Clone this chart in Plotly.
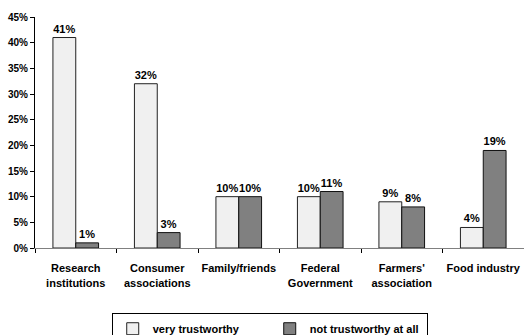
import plotly.graph_objects as go

categories = ["Research<br>institutions", "Consumer<br>associations", "Family/friends",
              "Federal<br>Government", "Farmers'<br>association", "Food industry"]
very_trustworthy = [41, 32, 10, 10, 9, 4]
not_trustworthy = [1, 3, 10, 11, 8, 19]
series_names = ["very trustworthy", "not trustworthy at all"]

FONT = "Liberation Sans, Arial, sans-serif"

fig = go.Figure()
fig.add_trace(go.Bar(
    x=categories, y=very_trustworthy, name=series_names[0],
    marker=dict(color="#F0F0F0", line=dict(color="#222222", width=1)),
    text=[f"{v}%" for v in very_trustworthy], textposition="outside",
    textfont=dict(family=FONT, size=11, color="#000", weight="bold"),
    cliponaxis=False,
))
fig.add_trace(go.Bar(
    x=categories, y=not_trustworthy, name=series_names[1],
    marker=dict(color="#808080", line=dict(color="#111111", width=1)),
    text=[f"{v}%" for v in not_trustworthy], textposition="outside",
    textfont=dict(family=FONT, size=11, color="#000", weight="bold"),
    cliponaxis=False,
))

fig.update_layout(
    width=524, height=335,
    margin=dict(l=35, r=0, t=17, b=87),
    barmode="group", bargap=0.44, bargroupgap=0,
    plot_bgcolor="white", paper_bgcolor="white",
    font=dict(family=FONT, size=10, color="#000", weight="bold"),
    showlegend=True,
    legend=dict(
        orientation="h", x=0.48, xanchor="center",
        yref="container", y=0.065, yanchor="top",
        bordercolor="#000", borderwidth=1, bgcolor="white",
        font=dict(family=FONT, size=11, color="#000", weight="bold"),
        itemwidth=30, entrywidth=112, tracegroupgap=0,
    ),
    xaxis=dict(
        showline=True, linecolor="#808080", linewidth=1,
        ticks="outside", tickson="boundaries", ticklen=4, tickcolor="#000",
        tickangle=0, automargin=False, ticklabelstandoff=10,
        tickfont=dict(family=FONT, size=11, color="#000", weight="bold"),
        showgrid=False,
    ),
    yaxis=dict(
        range=[0, 45], dtick=5, ticksuffix="%", automargin=False,
        showline=True, linecolor="#000", linewidth=1,
        ticks="outside", ticklen=4, tickcolor="#000",
        tickfont=dict(family=FONT, size=10, color="#000", weight="bold"),
        showgrid=False, zeroline=False,
    ),
)

fig.write_html("out.html")
